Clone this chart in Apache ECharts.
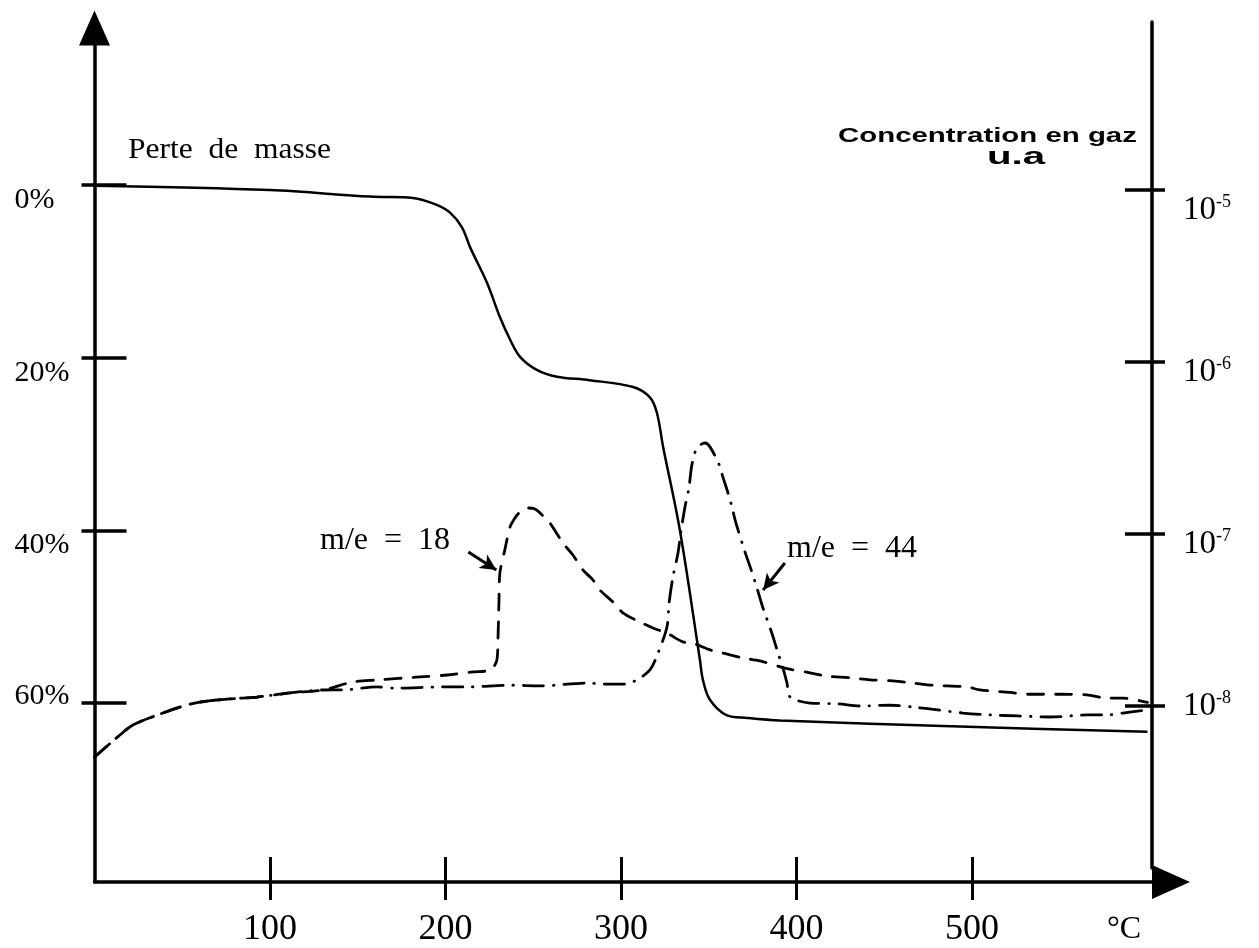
<!DOCTYPE html>
<html>
<head>
<meta charset="utf-8">
<script src="https://cdn.jsdelivr.net/npm/echarts@6/dist/echarts.min.js"></script>
<style>
html,body{margin:0;padding:0;background:#fff;}
#chart{width:1259px;height:948px;}
</style>
</head>
<body>
<div id="chart"></div>
<script>
// ---------- data ----------
// temperature (°C) and mass loss (%) - solid curve, left axis
const massTemp = [0,100,157,181.5,195,202.6,209.4,214,223.6,231,236.8,242.5,252,263.5,282,307,316.5,320.5,324,333.6,345,346.7,350.7,360.4,371.8,390.6,493,600];
const massLoss = [0.1,0.6,1.35,1.5,2.3,3.2,4.9,7.2,11.3,15.3,17.9,19.9,21.4,22.2,22.6,23.4,24.6,26.4,30.3,40,55,57.3,59.6,61.4,61.7,62,62.7,63.3];

// m/e = 18 gas concentration (u.a), dashed curve, right log axis
const temp18 = [0,14.5,21.9,37.3,48.7,60.1,77.2,92.6,111.4,130.2,147.3,161,185.5,200.9,215.7,225.4,229.3,229.9,230.5,231,233.8,236.8,239.6,242.5,247,251,255.6,259.5,266.9,272.6,278.3,284,288,295.4,301.1,310.8,318.2,326.2,335.3,341,350.7,358.1,369.5,379.2,393.4,407.7,417.4,430.5,441.9,455,466.4,477.8,497.2,504.6,521.7,532,550,565.5,577,586,600];
const conc18 = [5.05e-9,6.78e-9,7.76e-9,8.97e-9,9.86e-9,1.054e-8,1.099e-8,1.127e-8,1.191e-8,1.239e-8,1.380e-8,1.416e-8,1.476e-8,1.514e-8,1.578e-8,1.618e-8,1.849e-8,2.421e-8,4.130e-8,5.93e-8,8.07e-8,1.099e-7,1.239e-7,1.343e-7,1.416e-7,1.396e-7,1.274e-7,1.159e-7,8.87e-8,7.55e-8,6.18e-8,5.41e-8,4.72e-8,4.03e-8,3.48e-8,3.08e-8,2.84e-8,2.65e-8,2.36e-8,2.32e-8,2.12e-8,2.03e-8,1.90e-8,1.83e-8,1.66e-8,1.56e-8,1.49e-8,1.46e-8,1.42e-8,1.40e-8,1.36e-8,1.32e-8,1.29e-8,1.24e-8,1.20e-8,1.17e-8,1.17e-8,1.16e-8,1.11e-8,1.11e-8,1.05e-8];

// m/e = 44 gas concentration (u.a), dash-dot curve, right log axis
const temp44 = [0,14.5,21.9,37.3,48.7,60.1,77.2,92.6,111.4,130.2,141.6,161,171.2,198.6,212.3,236.8,254.4,281.2,290.3,302.3,309.1,316.5,321.1,326.2,327.4,329.6,332.5,334.2,336.5,338.7,340.5,343.3,347.9,350.7,355.8,358.1,361,363.2,365.5,370.7,374,377.5,380.9,386,389.5,392.3,394.6,396.3,407.7,423.6,436.2,453.3,466.4,480.6,494.9,510.3,526.2,544.4,566,577,586,600];
const conc44 = [5.05e-9,6.78e-9,7.76e-9,8.97e-9,9.86e-9,1.054e-8,1.099e-8,1.127e-8,1.191e-8,1.239e-8,1.24e-8,1.29e-8,1.27e-8,1.29e-8,1.29e-8,1.32e-8,1.31e-8,1.36e-8,1.34e-8,1.34e-8,1.42e-8,1.62e-8,2.03e-8,2.88e-8,3.97e-8,5.62e-8,7.76e-8,1.04e-7,1.44e-7,1.85e-7,2.55e-7,3.16e-7,3.38e-7,3.21e-7,2.55e-7,2.14e-7,1.73e-7,1.44e-7,1.16e-7,7.85e-8,6.27e-8,4.85e-8,3.72e-8,2.65e-8,2.03e-8,1.66e-8,1.36e-8,1.13e-8,1.04e-8,1.03e-8,1.00e-8,1.01e-8,9.86e-9,9.48e-9,9.10e-9,8.87e-9,8.75e-9,8.63e-9,8.87e-9,8.87e-9,9.10e-9,9.48e-9];

// tick values
const xTicks = [100,200,300,400,500];
const leftTicks = [0,20,40,60];
const rightTicks = [1e-5,1e-6,1e-7,1e-8];

// annotation arrows [from, to] in (°C, concentration)
const arrow18 = [[213, 7.85e-8],[229, 6.18e-8]];
const arrow44 = [[393.4, 6.78e-8],[381, 4.72e-8]];

// ---------- chart ----------
const zip = (a,b) => a.map((v,i)=>[v,b[i]]);
const SERIF = '"Liberation Serif","DejaVu Serif",serif';
const SANS = '"Liberation Sans","DejaVu Sans",sans-serif';
const XMAX = 602.6;
const LEFT_MIN = -16.2, LEFT_MAX = 80.7;
const RIGHT_MIN = 1.143e-9, RIGHT_MAX = 9.48e-5;
const black = '#000';

const rightRich = {};
[[-5,[20,0,0,0]],[-6,[10,0,0,0]],[-7,[10,0,0,0]],[-8,[0,0,0,0]]].forEach(([e,p])=>{
  const k = 'e' + Math.abs(e);
  rightRich['b'+k] = {fontFamily: SERIF, fontSize: 33, color: black, padding: p, verticalAlign: 'top', lineHeight: 33};
  rightRich['s'+k] = {fontFamily: SERIF, fontSize: 18, color: black, padding: p, verticalAlign: 'top', lineHeight: 18};
});

const chart = echarts.init(document.getElementById('chart'), null, {renderer: 'canvas'});
chart.setOption({
  animation: false,
  backgroundColor: '#fff',
  grid: [
    {left: 94.5, right: 107, top: 45, bottom: 66},
    {left: 94.5, right: 107, top: 22, bottom: 80}
  ],
  xAxis: [
    {
      gridIndex: 0, type: 'value', min: 0, max: XMAX, position: 'bottom',
      axisLine: {show: true, onZero: false, lineStyle: {color: black, width: 3.5}, symbol: ['none','triangle'], symbolSize: [34, 38], symbolOffset: [0, 19]},
      axisTick: {show: true, customValues: xTicks, inside: false, length: 18, lineStyle: {color: black, width: 3}},
      axisLabel: {show: true, customValues: xTicks, margin: 30, fontFamily: SERIF, fontSize: 36, color: black},
      splitLine: {show: false}
    },
    {
      gridIndex: 0, type: 'value', min: 0, max: XMAX, position: 'bottom', offset: 0,
      axisLine: {show: false, onZero: false},
      axisTick: {show: true, customValues: xTicks, inside: true, length: 25, lineStyle: {color: black, width: 3}},
      axisLabel: {show: false},
      splitLine: {show: false}
    },
    {
      gridIndex: 1, type: 'value', min: 0, max: XMAX, show: false, axisLine: {onZero: false}, splitLine: {show: false}
    }
  ],
  yAxis: [
    {
      gridIndex: 0, type: 'value', inverse: true, min: LEFT_MIN, max: LEFT_MAX, position: 'left',
      axisLine: {show: true, onZero: false, lineStyle: {color: black, width: 3.5}, symbol: ['none','triangle'], symbolSize: [31, 35], symbolOffset: [0, 17]},
      axisTick: {show: true, customValues: leftTicks, inside: false, length: 13, lineStyle: {color: black, width: 3.5}},
      axisLabel: {
        show: true, customValues: leftTicks, align: 'left', margin: 80,
        formatter: v => v === 60 ? '{u|60%}' : '{d|' + v + '%}',
        rich: {
          d: {fontFamily: SERIF, fontSize: 30, color: black, padding: [30,0,0,0]},
          u: {fontFamily: SERIF, fontSize: 30, color: black, padding: [0,0,14,0]}
        }
      },
      splitLine: {show: false}
    },
    {
      gridIndex: 0, type: 'value', inverse: true, min: LEFT_MIN, max: LEFT_MAX, position: 'left', offset: 0,
      axisLine: {show: false, onZero: false},
      axisTick: {show: true, customValues: leftTicks, inside: true, length: 32, lineStyle: {color: black, width: 3.5}},
      axisLabel: {show: false},
      splitLine: {show: false}
    },
    {
      gridIndex: 1, type: 'log', logBase: 10, min: RIGHT_MIN, max: RIGHT_MAX, position: 'right',
      axisLine: {show: true, onZero: false, lineStyle: {color: black, width: 3.5}},
      axisTick: {show: true, customValues: rightTicks, inside: false, length: 13, lineStyle: {color: black, width: 3.5}},
      axisLabel: {
        show: true, customValues: rightTicks, margin: 31, align: 'left',
        formatter: v => { const e = Math.round(Math.log10(v)); const k = 'e' + Math.abs(e); return '{b' + k + '|10}{s' + k + '|-' + Math.abs(e) + '}'; },
        rich: rightRich
      },
      splitLine: {show: false}
    },
    {
      gridIndex: 1, type: 'log', logBase: 10, min: RIGHT_MIN, max: RIGHT_MAX, position: 'right', offset: 0,
      axisLine: {show: false, onZero: false},
      axisTick: {show: true, customValues: rightTicks, inside: true, length: 27, lineStyle: {color: black, width: 3.5}},
      axisLabel: {show: false},
      splitLine: {show: false}
    }
  ],
  series: [
    {
      name: 'Perte de masse', type: 'line', xAxisIndex: 0, yAxisIndex: 0,
      data: zip(massTemp, massLoss), showSymbol: false, smooth: 0.35,
      lineStyle: {color: black, width: 2.5}
    },
    {
      name: 'm/e = 18', type: 'line', xAxisIndex: 2, yAxisIndex: 2,
      data: zip(temp18, conc18), showSymbol: false, smooth: 0.3,
      lineStyle: {color: black, width: 2.8, type: [16, 12], cap: 'round'},
      markLine: {
        silent: true, symbol: ['none', 'arrow'], symbolSize: [12, 16], label: {show: false},
        lineStyle: {color: black, width: 3, type: 'solid'},
        data: [[{coord: arrow18[0]}, {coord: arrow18[1]}]]
      }
    },
    {
      name: 'm/e = 44', type: 'line', xAxisIndex: 2, yAxisIndex: 2,
      data: zip(temp44, conc44), showSymbol: false, smooth: 0.3,
      lineStyle: {color: black, width: 2.8, type: [20, 10, 0.5, 10], cap: 'round'},
      markLine: {
        silent: true, symbol: ['none', 'arrow'], symbolSize: [12, 16], label: {show: false},
        lineStyle: {color: black, width: 3, type: 'solid'},
        data: [[{coord: arrow44[0]}, {coord: arrow44[1]}]]
      }
    }
  ],
  graphic: [
    {type: 'text', x: 128, y: 150, scaleX: 1.05, style: {text: 'Perte  de  masse', font: '30px ' + SERIF, fill: black, align: 'left', verticalAlign: 'middle', textAlign: 'left', textVerticalAlign: 'middle'}},
    {type: 'text', x: 838, y: 136, scaleX: 1.4, style: {text: 'Concentration en gaz', font: 'bold 21px ' + SANS, fill: black, align: 'left', verticalAlign: 'middle', textAlign: 'left', textVerticalAlign: 'middle'}},
    {type: 'text', x: 1016, y: 158, scaleX: 1.75, style: {text: 'u.a', font: 'bold 23px ' + SANS, fill: black, align: 'center', verticalAlign: 'middle', textAlign: 'center', textVerticalAlign: 'middle'}},
    {type: 'text', x: 1124, y: 930, style: {text: '°C', font: '32px ' + SERIF, fill: black, align: 'center', verticalAlign: 'middle', textAlign: 'center', textVerticalAlign: 'middle'}},
    {type: 'text', x: 320, y: 541, style: {text: 'm/e  =  18', font: '32px ' + SERIF, fill: black, align: 'left', verticalAlign: 'middle', textAlign: 'left', textVerticalAlign: 'middle'}},
    {type: 'text', x: 787, y: 549, style: {text: 'm/e  =  44', font: '32px ' + SERIF, fill: black, align: 'left', verticalAlign: 'middle', textAlign: 'left', textVerticalAlign: 'middle'}}
  ]
});
</script>
</body>
</html>
